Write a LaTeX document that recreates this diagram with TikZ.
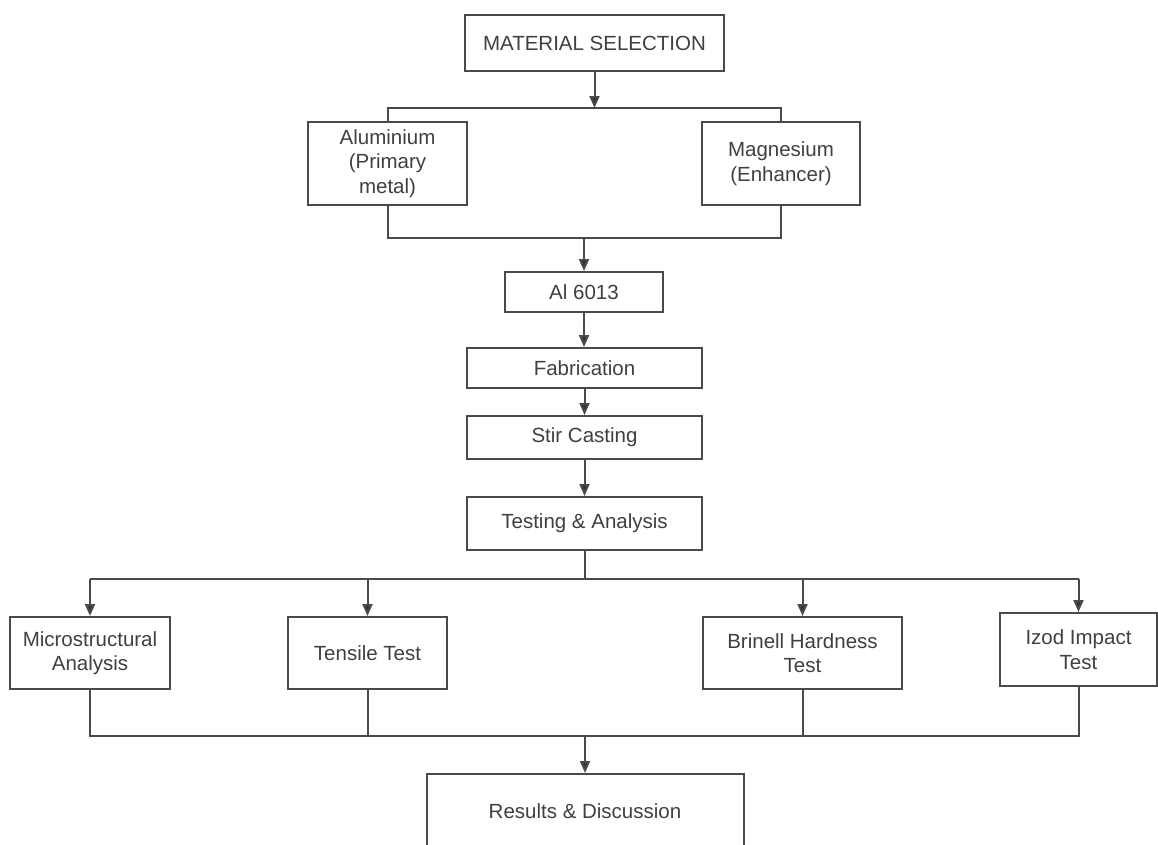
\documentclass[tikz,border=0pt]{standalone}
\usepackage{fontspec}
\setmainfont{Liberation Sans}
\usetikzlibrary{arrows.meta}
\definecolor{linec}{HTML}{4A4A4A}
\definecolor{arrc}{HTML}{333333}
\definecolor{txtc}{HTML}{404040}
\begin{document}
\begin{tikzpicture}[x=1pt,y=-1pt,
  box/.style={draw=linec, line width=2pt, inner sep=0pt, align=center,
    text=txtc, font=\fontsize{20.5}{24.5}\selectfont},
  conn/.style={draw=linec, line width=2pt},
  arr/.style={conn, -{Triangle[length=12pt,width=10pt,fill=arrc]}}]
\clip (0,0) rectangle (1158,844);
\fill[white] (0,0) rectangle (1158,844);

\node[box, minimum width=259, minimum height=56] (ms) at (594.5,43) {MATERIAL SELECTION};
\node[box, minimum width=159, minimum height=83] (al) at (387.5,163.5) {Aluminium\\(Primary\\metal)};
\node[box, minimum width=158, minimum height=83] (mg) at (781,163.5) {Magnesium\\(Enhancer)};
\node[box, minimum width=158, minimum height=40] (a6) at (584,292) {Al 6013};
\node[box, minimum width=235, minimum height=40] (fab) at (584.5,368) {Fabrication};
\node[box, minimum width=235, minimum height=43] (stir) at (584.5,437.5) {Stir Casting};
\node[box, minimum width=235, minimum height=53] (test) at (584.5,523.5) {Testing \& Analysis};
\node[box, minimum width=160, minimum height=72] (mic) at (90,653) {Microstructural\\Analysis};
\node[box, minimum width=159, minimum height=72] (ten) at (367.5,653) {Tensile Test};
\node[box, minimum width=199, minimum height=72] (bri) at (802.5,653) {Brinell Hardness\\Test};
\node[box, minimum width=157, minimum height=73] (izo) at (1078.5,649.5) {Izod Impact\\Test};
\node[box, minimum width=317, minimum height=74, anchor=north] (res) at (585,773) {Results \& Discussion};

\coordinate (t1) at (594.5,108);
\coordinate (b1) at (584,238);
\coordinate (t2) at (584.5,579);
\coordinate (b2) at (585,736);

% top split
\draw[arr] (ms.south) -- (t1);
\draw[conn] (al.north) |- (t1) -| (mg.north);
\draw[conn] (al.south) |- (b1) -| (mg.south);
\draw[arr] (b1) -- (a6.north);
\draw[arr] (a6.south) -- (a6.south |- fab.north);
\draw[arr] (fab.south) -- (fab.south |- stir.north);
\draw[arr] (stir.south) -- (stir.south |- test.north);

% tests split
\draw[conn] (test.south) -- (t2);
\draw[conn] (mic.north |- t2) -- (izo.north |- t2);
\draw[arr] (mic.north |- t2) -- (mic.north);
\draw[arr] (ten.north |- t2) -- (ten.north);
\draw[arr] (bri.north |- t2) -- (bri.north);
\draw[arr] (izo.north |- t2) -- (izo.north);

% merge
\draw[conn] (mic.south) |- (b2) -| (izo.south);
\draw[conn] (ten.south) -- (ten.south |- b2);
\draw[conn] (bri.south) -- (bri.south |- b2);
\draw[arr] (b2) -- (res.north);
\end{tikzpicture}
\end{document}
